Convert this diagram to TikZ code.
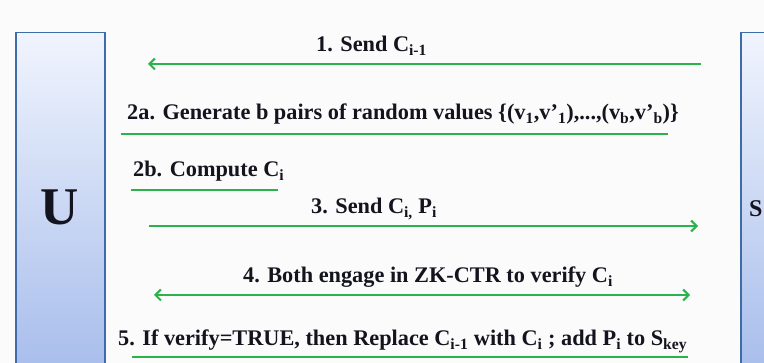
\documentclass[tikz,border=0pt]{standalone}
\usepackage{fontspec}
\setmainfont{Liberation Serif}
\usetikzlibrary{arrows.meta}
\definecolor{grn}{RGB}{43,178,76}
\definecolor{bordr}{RGB}{61,108,168}
\definecolor{btop}{RGB}{240,244,253}
\definecolor{bbot}{RGB}{166,188,235}
\definecolor{bg}{RGB}{251,251,251}
\definecolor{ink}{RGB}{20,20,30}
\begin{document}
\begin{tikzpicture}[x=1pt,y=-1pt,
  lbl/.style={anchor=base west, inner sep=0pt, text=ink, font=\fontsize{22.3}{24}\selectfont\bfseries},
  party/.style={draw=bordr, line width=1.5pt, top color=btop, bottom color=bbot, anchor=north west, inner sep=0pt},
  msg/.style={draw=grn, line width=2pt},
  tipped/.style={-{Straight Barb[length=5.5pt,width=11pt]}},
  bothtipped/.style={{Straight Barb[length=5.5pt,width=11pt]}-{Straight Barb[length=5.5pt,width=11pt]}}]
\useasboundingbox (0,0) rectangle (764,363);
\clip (0,0) rectangle (764,363);
\fill[bg] (0,0) rectangle (764,363);
% parties
\node[party, minimum width=89pt, minimum height=345pt] (Ubox) at (15,32) {};
\node[party, minimum width=60pt, minimum height=345pt] (Sbox) at (740,32) {};
\node[inner sep=0pt, text=ink, font=\fontsize{53}{53}\selectfont\bfseries] (Ulbl) at (60,207) {U};
\node[anchor=base west, inner sep=0pt, text=ink, font=\fontsize{24}{24}\selectfont\bfseries] (Slbl) at (749,217) {S};
% labels
\node[lbl] (t1) at (316,52) {1. Send C\textsubscript{i-1}};
\node[lbl] (t2a) at (127,120) {2a. Generate b pairs of random values \{(v\textsubscript{1},v'\textsubscript{1}),...,(v\textsubscript{b},v'\textsubscript{b})\}};
\node[lbl] (t2b) at (133,177) {2b. Compute C\textsubscript{i}};
\node[lbl] (t3) at (311,214) {3. Send C\textsubscript{i,} P\textsubscript{i}};
\node[lbl] (t4) at (243,283) {4. Both engage in ZK-CTR to verify C\textsubscript{i}};
\node[lbl] (t5) at (118,346) {5. If verify=TRUE, then Replace C\textsubscript{i-1} with C\textsubscript{i} ; add P\textsubscript{i} to S\textsubscript{key}};
% connector end points
\coordinate (a1s) at (701,64);  \coordinate (a1e) at (148,64);
\coordinate (l2as) at (121,134); \coordinate (l2ae) at (668,134);
\coordinate (l2bs) at (131,190); \coordinate (l2be) at (278,190);
\coordinate (a3s) at (149,226);  \coordinate (a3e) at (698,226);
\coordinate (a4s) at (154,295);  \coordinate (a4e) at (690,295);
\coordinate (l5s) at (132,357);  \coordinate (l5e) at (688,357);
% connectors
\draw[msg, tipped] (a1s) -- (a1e);
\draw[msg] (l2as) -- (l2ae);
\draw[msg] (l2bs) -- (l2be);
\draw[msg, tipped] (a3s) -- (a3e);
\draw[msg, bothtipped] (a4s) -- (a4e);
\draw[msg] (l5s) -- (l5e);
\end{tikzpicture}
\end{document}
